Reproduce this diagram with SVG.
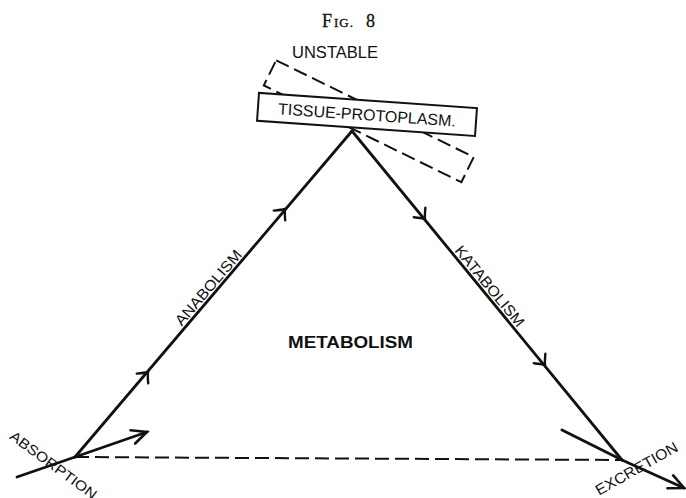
<svg xmlns="http://www.w3.org/2000/svg" width="686" height="498" viewBox="0 0 686 498">
<style>
  .edge { stroke:#111; stroke-width:2.8; fill:none; stroke-linecap:round; }
  .dash { stroke:#111; stroke-width:2; fill:none; stroke-dasharray:14 6; }
  .barb { stroke:#111; stroke-width:2.4; fill:none; stroke-linecap:round; }
  .lbl { font-family:"Liberation Sans", Arial, sans-serif; fill:#111; }
  .serif { font-family:"Liberation Serif", "Times New Roman", serif; fill:#111; }
</style>
<defs>
  <path id="barb" class="barb" d="M-8.5,-7.5 Q-3,-2 0,0 Q-3,2 -8.5,7.5"/>
  <marker id="chev" markerUnits="userSpaceOnUse" viewBox="-20 -10 24 20" refX="0" refY="0" markerWidth="24" markerHeight="20" orient="auto" overflow="visible">
    <path d="M-15,-7 L0,0 L-15,7" fill="none" stroke="#111" stroke-width="2.6" stroke-linecap="round" stroke-linejoin="miter"/>
  </marker>
</defs>
<rect width="686" height="498" fill="#fff"/>

<g id="title">
  <text class="serif" y="27" stroke="#111" stroke-width="0.3"><tspan x="322" font-size="18">F</tspan><tspan x="334" font-size="13" letter-spacing="1">IG.</tspan><tspan x="366" font-size="18">8</tspan></text>
</g>

<g id="unstable">
  <text class="lbl" x="292" y="58" font-size="16" textLength="86" lengthAdjust="spacingAndGlyphs">UNSTABLE</text>
</g>

<g id="tissue-protoplasm">
  <rect class="dash" x="-110" y="-14" width="220" height="28" stroke-dasharray="10 5" transform="translate(368.75,121.25) rotate(26.1)"/>
  <g transform="translate(367,114.4) rotate(4)">
    <rect x="-109.25" y="-14" width="218.5" height="28" fill="#fff" stroke="#111" stroke-width="2"/>
    <text class="lbl" x="0" y="6" font-size="16" text-anchor="middle" textLength="178" lengthAdjust="spacingAndGlyphs">TISSUE-PROTOPLASM.</text>
  </g>
</g>

<g id="metabolism">
  <text class="lbl" x="288" y="348" font-size="16" font-weight="bold" textLength="125" lengthAdjust="spacingAndGlyphs">METABOLISM</text>
</g>

<g id="anabolism-label">
  <text class="lbl" transform="translate(208,287.5) rotate(-49.6)" x="0" y="5.5" font-size="15" text-anchor="middle" textLength="94" lengthAdjust="spacingAndGlyphs">ANABOLISM</text>
</g>

<g id="katabolism-label">
  <text class="lbl" transform="translate(490,286) rotate(50.6)" x="0" y="5.5" font-size="15" text-anchor="middle" textLength="100" lengthAdjust="spacingAndGlyphs">KATABOLISM</text>
</g>

<g id="absorption">
  <text class="lbl" transform="translate(53.5,465) rotate(36.5)" x="0" y="5" font-size="14" text-anchor="middle" textLength="104" lengthAdjust="spacingAndGlyphs">ABSORPTION</text>
</g>

<g id="excretion">
  <text class="lbl" transform="translate(636.5,468.5) rotate(-29.5)" x="0" y="5.3" font-size="15" text-anchor="middle" textLength="92" lengthAdjust="spacingAndGlyphs">EXCRETION</text>
</g>

<g id="connectors">
  <line class="dash" x1="75" y1="457" x2="622" y2="460"/>
  <line class="edge" x1="75" y1="457" x2="352" y2="131"/>
  <line class="edge" x1="352" y1="131" x2="622" y2="460"/>
  <line class="edge" x1="17" y1="477" x2="75" y2="457"/>
  <line class="edge" x1="75" y1="457" x2="147" y2="432" marker-end="url(#chev)"/>
  <line class="edge" x1="562" y1="430" x2="622" y2="460"/>
  <line class="edge" x1="622" y1="460" x2="684" y2="488" marker-end="url(#chev)"/>
  <use href="#barb" transform="translate(148,372) rotate(-49.6)"/>
  <use href="#barb" transform="translate(285,209) rotate(-49.6)"/>
  <use href="#barb" transform="translate(425,219) rotate(50.6)"/>
  <use href="#barb" transform="translate(545,365) rotate(50.6)"/>
</g>
</svg>
